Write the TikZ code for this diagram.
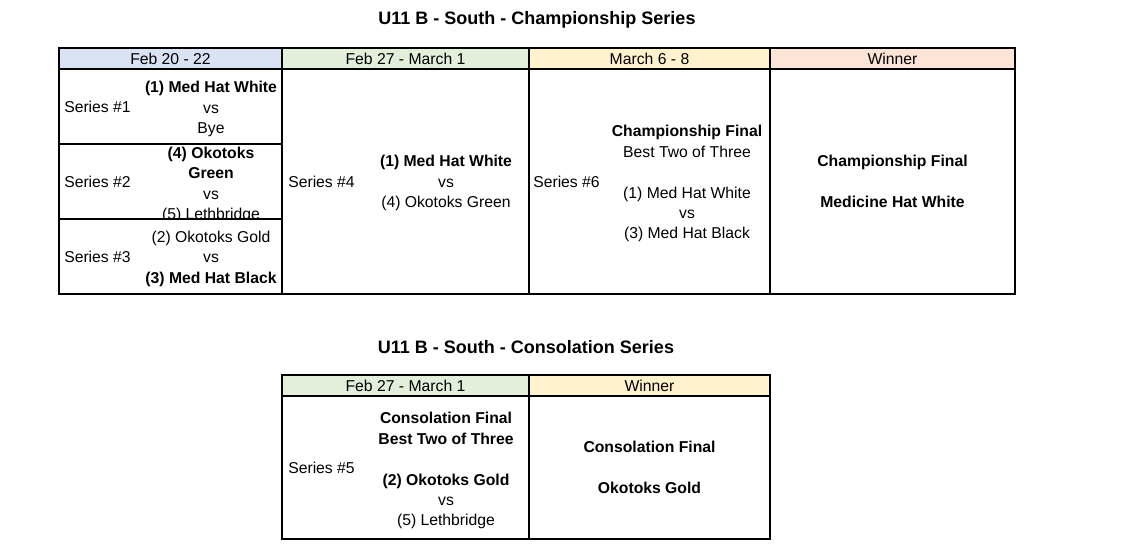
\documentclass[tikz,border=0pt]{standalone}
\usepackage{fontspec}
\setmainfont{Liberation Sans}
\definecolor{hdblue}{HTML}{DAE3F3}
\definecolor{hdgreen}{HTML}{E2EFDA}
\definecolor{hdyellow}{HTML}{FFF2CC}
\definecolor{hdpeach}{HTML}{FCE4D6}

\begin{document}
\begin{tikzpicture}[x=0.75pt,y=-0.75pt,
    grid/.style={line width=1.5pt},
    txt/.style={anchor=base,inner sep=0pt,font=\fontsize{11.8}{14}\selectfont},
    lbl/.style={txt,anchor=base west},
    heading/.style={anchor=base,inner sep=0pt,font=\fontsize{13.5}{16}\selectfont\bfseries}]
    \useasboundingbox (0,0) rectangle (1143,545);
    %% Championship table
    \node[heading] (champtitle) at (537,25) {U11 B - South - Championship Series};
    \fill[hdblue] (59,48) rectangle (282,69);
    \fill[hdgreen] (282,48) rectangle (529,69);
    \fill[hdyellow] (529,48) rectangle (770,69);
    \fill[hdpeach] (770,48) rectangle (1015,69);
    \node[txt] (hda) at (170.5,65) {Feb 20 - 22};
    \node[txt] (hdb) at (405.5,65) {Feb 27 - March 1};
    \node[txt] (hdc) at (649.5,65) {March 6 - 8};
    \node[txt] (hdd) at (892.5,65) {Winner};
    %% Round one
    \node[lbl] (sera) at (64,113) {Series \#1};
    \foreach \y/\t [count=\i] in {93/{\bfseries (1) Med Hat White},114/vs,134/Bye}
        \node[txt] (rowa-\i) at (211,\y) {\t};
    \node[lbl] (serb) at (64,188) {Series \#2};
    \begin{scope}
    \clip (59,144) rectangle (282,218);
    \foreach \y/\t [count=\i] in {158.5/{\bfseries (4) Okotoks},179/{\bfseries Green},199.5/vs,220/(5) Lethbridge}
        \node[txt] (rowb-\i) at (211,\y) {\t};
    \end{scope}
    \node[lbl] (serc) at (64,263) {Series \#3};
    \foreach \y/\t [count=\i] in {243/(2) Okotoks Gold,263/vs,283.5/{\bfseries (3) Med Hat Black}}
        \node[txt] (rowc-\i) at (211,\y) {\t};
    %% Round two
    \node[lbl] (serd) at (288,188) {Series \#4};
    \foreach \y/\t [count=\i] in {167/{\bfseries (1) Med Hat White},188/vs,208/(4) Okotoks Green}
        \node[txt] (rowd-\i) at (446,\y) {\t};
    %% Final
    \node[lbl] (serf) at (533,188) {Series \#6};
    \foreach \y/\t [count=\i] in {137/{\bfseries Championship Final},158/Best Two of Three,198.5/(1) Med Hat White,218.5/vs,238.5/(3) Med Hat Black}
        \node[txt] (rowf-\i) at (687,\y) {\t};
    \node[txt,font=\fontsize{11.8}{14}\selectfont\bfseries] (wina) at (892.5,167) {Championship Final};
    \node[txt,font=\fontsize{11.8}{14}\selectfont\bfseries] (winb) at (892.5,207.5) {Medicine Hat White};
    \draw[grid] (59,48) rectangle (1015,294);
    \draw[grid] (59,69) -- (1015,69) (59,144) -- (282,144) (59,219) -- (282,219);
    \draw[grid] (282,48) -- (282,294) (529,48) -- (529,294) (770,48) -- (770,294);
    %% Consolation table
    \node[heading] (constitle) at (526,353.5) {U11 B - South - Consolation Series};
    \fill[hdgreen] (282,375) rectangle (529,396);
    \fill[hdyellow] (529,375) rectangle (770,396);
    \node[txt] (hde) at (405.5,392) {Feb 27 - March 1};
    \node[txt] (hdf) at (649.5,392) {Winner};
    \node[lbl] (sere) at (288,473.5) {Series \#5};
    \foreach \y/\t [count=\i] in {423.5/{\bfseries Consolation Final},444/{\bfseries Best Two of Three},485/{\bfseries (2) Okotoks Gold},505/vs,525.5/(5) Lethbridge}
        \node[txt] (rowe-\i) at (446,\y) {\t};
    \node[txt,font=\fontsize{11.8}{14}\selectfont\bfseries] (winc) at (649.5,452) {Consolation Final};
    \node[txt,font=\fontsize{11.8}{14}\selectfont\bfseries] (wind) at (649.5,493.5) {Okotoks Gold};
    \draw[grid] (282,375) rectangle (770,539);
    \draw[grid] (282,396) -- (770,396) (529,375) -- (529,539);
\end{tikzpicture}
\end{document}
